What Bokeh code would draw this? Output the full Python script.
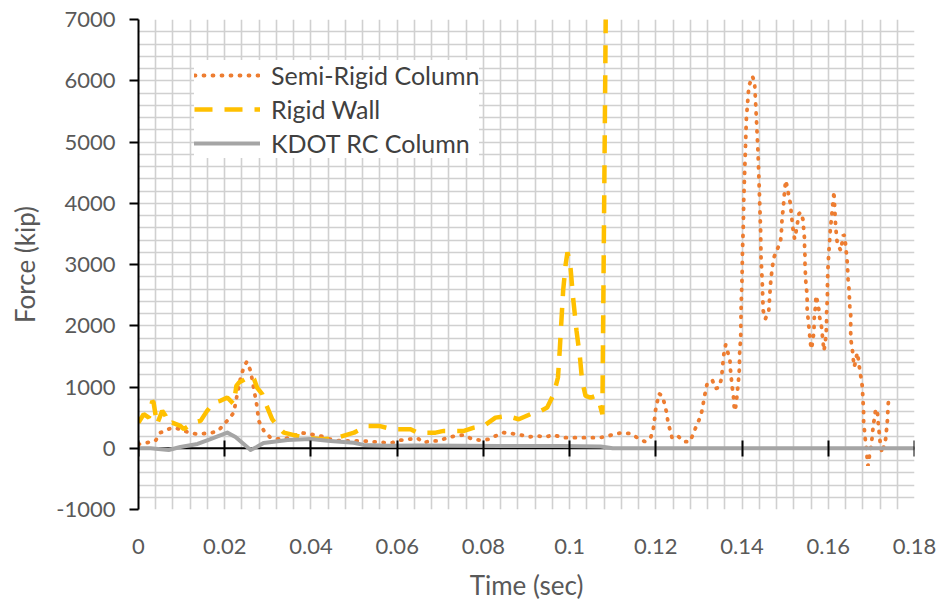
from bokeh.plotting import figure
from bokeh.models import Range1d, FixedTicker, LinearAxis, Span, Legend, LegendItem
from bokeh.embed import file_html
from bokeh.resources import INLINE

# ---------------- data ----------------
semi_t = [0.0000, 0.0020, 0.0039, 0.0051, 0.0078, 0.0097, 0.0117, 0.0136, 0.0151, 0.0171,
          0.0186, 0.0209, 0.0221, 0.0229, 0.0237, 0.0244, 0.0251, 0.0260, 0.0267, 0.0274,
          0.0279, 0.0291, 0.0306, 0.0329, 0.0353, 0.0376, 0.0399, 0.0422, 0.0445, 0.0469,
          0.0499, 0.0523, 0.0538, 0.0573, 0.0589, 0.0608, 0.0627, 0.0647, 0.0662, 0.0677,
          0.0697, 0.0716, 0.0735, 0.0755, 0.0774, 0.0793, 0.0813, 0.0828, 0.0847, 0.0867,
          0.0886, 0.0905, 0.0925, 0.0944, 0.0963, 0.0983, 0.1002, 0.1021, 0.1041, 0.1064,
          0.1083, 0.1103, 0.1122, 0.1141, 0.1157, 0.1174, 0.1188, 0.1194, 0.1197, 0.1199,
          0.1203, 0.1207, 0.1215, 0.1220, 0.1225, 0.1228, 0.1233, 0.1238, 0.1251, 0.1265,
          0.1279, 0.1287, 0.1294, 0.1302, 0.1308, 0.1311, 0.1315, 0.1319, 0.1331, 0.1339,
          0.1346, 0.1352, 0.1354, 0.1356, 0.1358, 0.1362, 0.1367, 0.1372, 0.1373, 0.1375,
          0.1377, 0.1380, 0.1381, 0.1383, 0.1385, 0.1387, 0.1389, 0.1391, 0.1393, 0.1394,
          0.1394, 0.1395, 0.1397, 0.1397, 0.1398, 0.1400, 0.1401, 0.1403, 0.1404, 0.1406,
          0.1408, 0.1410, 0.1413, 0.1416, 0.1418, 0.1424, 0.1429, 0.1431, 0.1434, 0.1437,
          0.1439, 0.1441, 0.1443, 0.1444, 0.1447, 0.1449, 0.1454, 0.1462, 0.1466, 0.1470,
          0.1474, 0.1482, 0.1489, 0.1491, 0.1493, 0.1496, 0.1497, 0.1499, 0.1501, 0.1505,
          0.1509, 0.1513, 0.1514, 0.1517, 0.1519, 0.1522, 0.1526, 0.1532, 0.1536, 0.1542,
          0.1543, 0.1545, 0.1545, 0.1546, 0.1546, 0.1547, 0.1548, 0.1550, 0.1551, 0.1551,
          0.1553, 0.1555, 0.1557, 0.1559, 0.1561, 0.1564, 0.1567, 0.1567, 0.1568, 0.1571,
          0.1571, 0.1574, 0.1578, 0.1580, 0.1584, 0.1586, 0.1588, 0.1590, 0.1593, 0.1595,
          0.1596, 0.1596, 0.1598, 0.1598, 0.1599, 0.1601, 0.1604, 0.1605, 0.1608, 0.1609,
          0.1612, 0.1613, 0.1614, 0.1617, 0.1619, 0.1621, 0.1629, 0.1635, 0.1638, 0.1640,
          0.1642, 0.1644, 0.1645, 0.1646, 0.1648, 0.1649, 0.1650, 0.1652, 0.1652, 0.1652,
          0.1653, 0.1656, 0.1658, 0.1660, 0.1663, 0.1666, 0.1668, 0.1670, 0.1673, 0.1676,
          0.1679, 0.1680, 0.1681, 0.1682, 0.1682, 0.1684, 0.1686, 0.1689, 0.1690, 0.1692,
          0.1694, 0.1696, 0.1700, 0.1702, 0.1704, 0.1707, 0.1710, 0.1714, 0.1715, 0.1717,
          0.1719, 0.1721, 0.1725, 0.1733, 0.1735, 0.1737, 0.1738, 0.1739, 0.1741]
semi_f = [65, 92, 119, 255, 337, 311, 255, 229, 239, 255,
          294, 474, 582, 883, 1155, 1318, 1412, 1264, 991, 720,
          447, 283, 173, 147, 173, 255, 229, 201, 147, 119,
          119, 119, 108, 92, 92, 131, 147, 164, 92, 119,
          119, 173, 201, 218, 147, 131, 147, 201, 255, 239,
          218, 185, 201, 185, 218, 173, 173, 173, 173, 173,
          185, 229, 255, 239, 173, 108, 173, 311, 474, 610,
          746, 893, 855, 729, 582, 435, 294, 164, 201, 108,
          108, 239, 365, 491, 638, 774, 921, 1057, 1112, 975,
          991, 1129, 1264, 1416, 1547, 1690, 1564, 1428, 1292, 1145,
          1003, 855, 720, 610, 664, 774, 909, 1057, 1210, 1346,
          1493, 1645, 1783, 1919, 2355, 2790, 3227, 3664, 4073, 4508,
          4944, 5381, 5653, 5926, 5954, 6073, 5980, 5708, 5272, 4835,
          4426, 3991, 3554, 3117, 2682, 2246, 2110, 2246, 2682, 2954,
          3117, 3255, 3363, 3500, 3772, 3935, 4073, 4208, 4372, 4262,
          4099, 3963, 3827, 3664, 3526, 3418, 3566, 3827, 3853, 3718,
          3554, 3418, 3281, 3134, 2993, 2846, 2709, 2561, 2421, 2273,
          2126, 1984, 1837, 1701, 1619, 1755, 1919, 2054, 2192, 2339,
          2491, 2421, 2273, 2136, 2000, 1865, 1727, 1591, 1727, 1865,
          2028, 2192, 2463, 2627, 2900, 3173, 3472, 3620, 3762, 3909,
          4056, 4197, 4045, 3636, 3472, 3337, 3227, 3484, 3472, 3337,
          3183, 3036, 2900, 2753, 2610, 2463, 2316, 2175, 2028, 1881,
          1744, 1603, 1456, 1330, 1400, 1520, 1560, 1430, 1280, 1150,
          1003, 855, 720, 570, 420, 285, 135, -15, -150, -285,
          -215, -85, 65, 200, 350, 490, 640, 620, 475, 340,
          190, 55, -80, 150, 295, 440, 585, 720, 870]

rigid_t = [0.0000, 0.0012, 0.0024, 0.0032, 0.0035, 0.0043, 0.0055, 0.0063, 0.0070, 0.0078,
           0.0097, 0.0105, 0.0128, 0.0144, 0.0159, 0.0175, 0.0190, 0.0206, 0.0221, 0.0227,
           0.0233, 0.0248, 0.0260, 0.0268, 0.0275, 0.0287, 0.0299, 0.0310, 0.0322, 0.0337,
           0.0368, 0.0384, 0.0430, 0.0461, 0.0500, 0.0531, 0.0558, 0.0589, 0.0612, 0.0631,
           0.0647, 0.0670, 0.0689, 0.0708, 0.0731, 0.0755, 0.0778, 0.0801, 0.0828, 0.0855,
           0.0882, 0.0909, 0.0933, 0.0948, 0.0963, 0.0973, 0.0977, 0.0981, 0.0985, 0.0991,
           0.0995, 0.0998, 0.1002, 0.1008, 0.1016, 0.1024, 0.1029, 0.1037, 0.1049, 0.1060,
           0.1068, 0.1076, 0.1084]
rigid_f = [420, 556, 500, 774, 746, 393, 610, 528, 393, 419,
           365, 311, 419, 447, 610, 746, 774, 828, 720, 1019,
           1073, 1129, 1183, 1129, 991, 883, 664, 474, 365, 256,
           201, 173, 147, 173, 255, 365, 365, 311, 311, 311,
           255, 255, 255, 283, 283, 283, 337, 365, 500, 528,
           474, 556, 610, 664, 883, 1155, 1591, 2082, 2573, 3010,
           3199, 3117, 2954, 2463, 1918, 1482, 1101, 855, 828, 855,
           774, 556, 7200]

kdot_t = [0.0000, 0.0028, 0.0070, 0.0097, 0.0137, 0.0167, 0.0206, 0.0225, 0.0244, 0.0260,
          0.0274, 0.0290, 0.0346, 0.0399, 0.0445, 0.0499, 0.0522, 0.0578, 0.0654, 0.0747,
          0.0840, 0.0979, 0.1072, 0.1100, 0.1800]
kdot_f = [0, 0, -28, 20, 70, 150, 255, 185, 70, -28,
          20, 85, 135, 150, 120, 90, 55, 40, 45, 40,
          35, 35, 30, 0, 0]

series_names = ["Semi-Rigid Column", "Rigid Wall", "KDOT RC Column"]

x_ticks = [0, 0.02, 0.04, 0.06, 0.08, 0.1, 0.12, 0.14, 0.16, 0.18]
x_tick_labels = ["0", "0.02", "0.04", "0.06", "0.08", "0.1", "0.12", "0.14", "0.16", "0.18"]
y_ticks = [-1000, 0, 1000, 2000, 3000, 4000, 5000, 6000, 7000]
y_tick_labels = ["-1000", "0", "1000", "2000", "3000", "4000", "5000", "6000", "7000"]

# ---------------- styling ----------------
FONT = "Lato"
LABEL_COLOR = "#595959"

p = figure(width=945, height=604, output_backend="svg", toolbar_location=None,
           x_range=Range1d(0, 0.18), y_range=Range1d(-1000, 7000),
           min_border_left=138, min_border_right=31, min_border_top=19, min_border_bottom=95)
p.background_fill_color = "white"
p.border_fill_color = "white"
p.outline_line_color = None

# dense grid
p.xgrid.ticker = FixedTicker(ticks=[round(i * 0.004, 4) for i in range(46)])
p.ygrid.ticker = FixedTicker(ticks=list(range(-1000, 7001, 200)))
for g in (p.xgrid, p.ygrid):
    g.grid_line_color = "#d0d0d0"
    g.grid_line_width = 1.6

# zero line (horizontal axis line) under the series
p.add_layout(Span(location=0, dimension="width", line_color="black", line_width=2, level="underlay"))

# series
r_semi = p.line(semi_t, semi_f, line_color="#ED7D31", line_width=3.8, line_dash="1 8", line_cap="round")
r_rigid = p.line(rigid_t, rigid_f, line_color="#FFC000", line_width=4.5, line_dash="18 12", line_cap="butt")
r_kdot = p.line(kdot_t, kdot_f, line_color="#A5A5A5", line_width=4, line_cap="round", line_join="round")

# bottom axis: labels only
xa = p.xaxis[0]
xa.ticker = FixedTicker(ticks=x_ticks)
xa.major_label_overrides = {t: s for t, s in zip(x_ticks, x_tick_labels)}
xa.axis_line_color = None
xa.major_tick_line_color = None
xa.minor_tick_line_color = None
xa.major_tick_in = 0
xa.major_tick_out = 0
xa.major_label_standoff = 29
xa.major_label_text_font = FONT
xa.major_label_text_font_size = "22px"
xa.major_label_text_color = LABEL_COLOR
xa.axis_label = "Time (sec)"
xa.axis_label_text_font = FONT
xa.axis_label_text_font_size = "26px"
xa.axis_label_text_font_style = "normal"
xa.axis_label_text_color = LABEL_COLOR
xa.axis_label_standoff = 12

# tick marks crossing the zero line
ax0 = LinearAxis(fixed_location=0, ticker=FixedTicker(ticks=x_ticks),
                 axis_line_color=None, major_tick_line_color="black", major_tick_line_width=2,
                 major_tick_in=8, major_tick_out=8, minor_tick_line_color=None,
                 major_label_text_color=None, major_label_standoff=0,
                 major_label_overrides={t: "" for t in x_ticks})
p.add_layout(ax0, "above")

# left axis
ya = p.yaxis[0]
ya.ticker = FixedTicker(ticks=y_ticks)
ya.major_label_overrides = {t: s for t, s in zip(y_ticks, y_tick_labels)}
ya.axis_line_color = "black"
ya.axis_line_width = 2
ya.major_tick_line_color = "black"
ya.major_tick_line_width = 2
ya.major_tick_in = 0
ya.major_tick_out = 9
ya.minor_tick_line_color = None
ya.major_label_standoff = 14
ya.major_label_text_font = FONT
ya.major_label_text_font_size = "22px"
ya.major_label_text_color = LABEL_COLOR
ya.axis_label = "Force (kip)"
ya.axis_label_text_font = FONT
ya.axis_label_text_font_size = "26px"
ya.axis_label_text_font_style = "normal"
ya.axis_label_text_color = LABEL_COLOR
ya.axis_label_standoff = 12

legend = Legend(items=[LegendItem(label=series_names[0], renderers=[r_semi]),
                       LegendItem(label=series_names[1], renderers=[r_rigid]),
                       LegendItem(label=series_names[2], renderers=[r_kdot])],
                location=(56, 351), orientation="vertical",
                label_text_font=FONT, label_text_font_size="25px", label_text_color="#404040",
                glyph_width=66, glyph_height=30, label_height=30, label_standoff=11,
                spacing=4, padding=10, margin=0,
                border_line_color=None, background_fill_color="white", background_fill_alpha=1.0)
p.add_layout(legend)

open("out.html", "w").write(file_html(p, INLINE))
